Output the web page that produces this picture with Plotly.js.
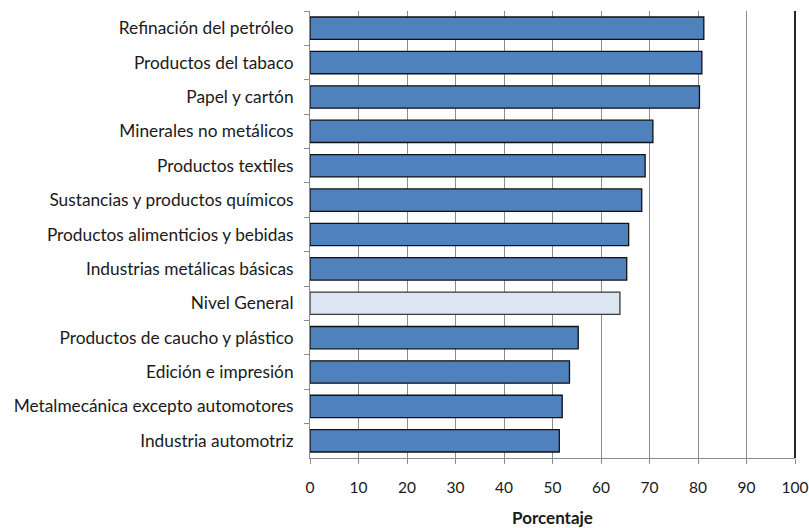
<!DOCTYPE html>
<html>
<head>
<meta charset="utf-8">
<script src="https://cdn.plot.ly/plotly-3.0.1.min.js"></script>
<style>html,body{margin:0;padding:0;background:#fff;}#chart{width:809px;height:528px;}</style>
</head>
<body>
<div id="chart"></div>
<script>
var categories = [
  "Refinación del petróleo",
  "Productos del tabaco",
  "Papel y cartón",
  "Minerales no metálicos",
  "Productos textiles",
  "Sustancias y productos químicos",
  "Productos alimenticios y bebidas",
  "Industrias metálicas básicas",
  "Nivel General",
  "Productos de caucho y plástico",
  "Edición e impresión",
  "Metalmecánica excepto automotores",
  "Industria automotriz"
];
var values = [81.2, 80.8, 80.3, 70.7, 69.1, 68.4, 65.7, 65.3, 63.9, 55.3, 53.5, 52.0, 51.4];
var highlight = "Nivel General";
var xTicks = [0, 10, 20, 30, 40, 50, 60, 70, 80, 90, 100];
var xTitle = "Porcentaje";

var colors = categories.map(function(c){ return c === highlight ? "#DCE6F2" : "#4F81BD"; });
var lineColors = categories.map(function(c){ return c === highlight ? "#3a3a3a" : "#111111"; });

var trace = {
  type: "bar",
  orientation: "h",
  x: values,
  y: categories,
  width: 0.65,
  marker: {color: colors, line: {color: lineColors, width: 1.3}},
  hoverinfo: "x+y"
};

var layout = {
  width: 809, height: 528,
  margin: {l: 310, r: 14, t: 11, b: 70},
  paper_bgcolor: "#ffffff",
  plot_bgcolor: "#ffffff",
  font: {family: "Lato, 'Open Sans', sans-serif", size: 15, color: "#1a1a1a"},
  showlegend: false,
  bargap: 0.35,
  xaxis: {
    range: [0, 100],
    tickvals: xTicks,
    ticktext: xTicks.map(String),
    showgrid: true, gridcolor: "#8c8c8c", gridwidth: 1,
    zeroline: false,
    showline: true, linecolor: "#8c8c8c", linewidth: 1,
    ticks: "outside", ticklen: 5, tickcolor: "#8c8c8c",
    ticklabelstandoff: 10,
    tickfont: {size: 15.5, color: "#1a1a1a"},
    title: {text: "<b>" + xTitle + "</b>", font: {size: 17, color: "#1a1a1a"}, standoff: 20},
    fixedrange: true
  },
  yaxis: {
    type: "category",
    categoryorder: "array",
    categoryarray: categories,
    autorange: "reversed",
    showgrid: false,
    showline: true, linecolor: "#8c8c8c", linewidth: 1,
    ticks: "outside", ticklen: 5, tickcolor: "#8c8c8c",
    tickson: "boundaries",
    ticklabelstandoff: 12,
    tickfont: {size: 17.3, color: "#1a1a1a"},
    fixedrange: true
  },
  shapes: [{
    type: "line", xref: "paper", yref: "paper",
    x0: 1, x1: 1, y0: 0, y1: 1,
    line: {color: "#262626", width: 2}
  }]
};

Plotly.newPlot("chart", [trace], layout, {displayModeBar: false, staticPlot: true});
</script>
</body>
</html>
